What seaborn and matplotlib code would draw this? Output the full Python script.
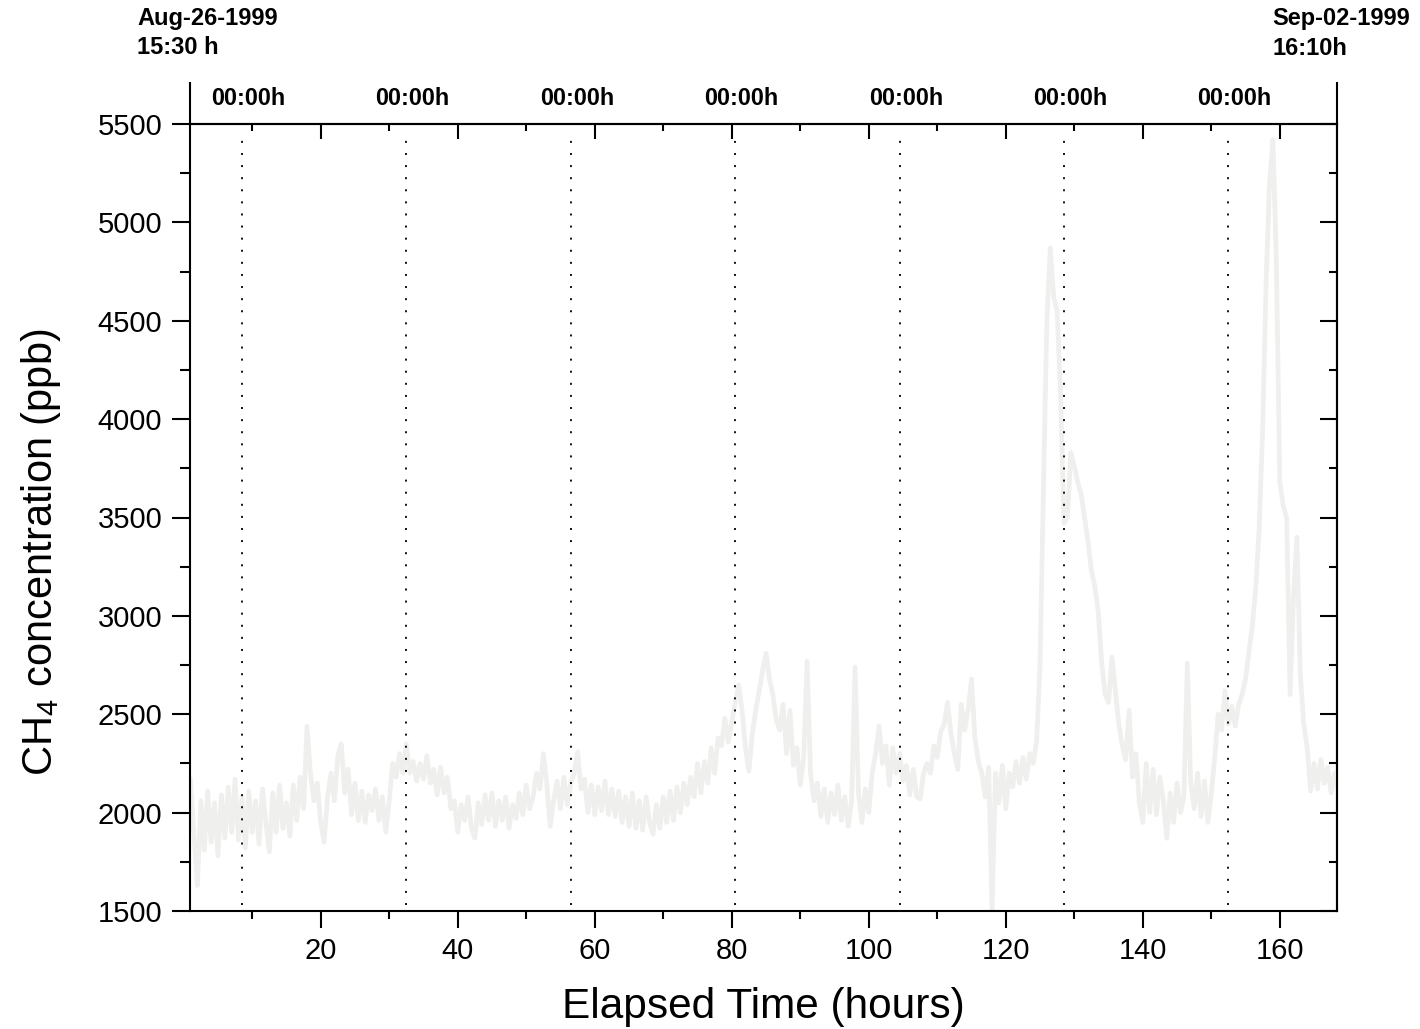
import numpy as np
import pandas as pd
import matplotlib
matplotlib.use("Agg")
import matplotlib.pyplot as plt
import seaborn as sns
from matplotlib.ticker import MultipleLocator, NullFormatter

# CH4 readings (ppb), one every half hour from 1.0 h of elapsed time
ch4 = [
    # 1.0 - 10.5 h
    2170, 1880, 1630, 2060, 1810, 2110, 1850, 2050, 1780, 2090,
    1870, 2130, 1900, 2170, 1860, 2080, 1820, 2110, 1900, 2060,
    # 11.0 - 20.5 h
    1840, 2120, 1950, 1800, 2100, 1900, 2140, 1920, 2050, 1880,
    2140, 1960, 2180, 2020, 2440, 2200, 2060, 2150, 1950, 1850,
    # 21.0 - 30.5 h
    2080, 2200, 2060, 2290, 2350, 2100, 2220, 1990, 2150, 1960,
    2110, 1950, 2090, 2010, 2120, 1960, 2080, 1900, 2060, 2250,
    # 31.0 - 40.5 h
    2180, 2300, 2200, 2350, 2200, 2260, 2160, 2250, 2170, 2290,
    2150, 2220, 2090, 2230, 2100, 2180, 2020, 2060, 1900, 2040,
    # 41.0 - 50.5 h
    1960, 2080, 1920, 1870, 2050, 1940, 2090, 1960, 2100, 1930,
    2060, 1960, 2080, 1920, 2040, 1970, 2100, 1990, 2140, 2020,
    # 51.0 - 60.5 h
    2080, 2200, 2120, 2300, 2150, 1930, 2060, 2160, 2020, 2180,
    2040, 2150, 2200, 2310, 2120, 2170, 2000, 2140, 1990, 2130,
    # 61.0 - 70.5 h
    2010, 2160, 1990, 2120, 1980, 2110, 1950, 2080, 1930, 2100,
    1920, 2060, 1910, 2080, 1950, 1890, 2040, 1920, 2080, 1950,
    # 71.0 - 80.5 h
    2110, 1960, 2130, 2000, 2150, 2040, 2180, 2080, 2250, 2100,
    2260, 2150, 2330, 2200, 2380, 2340, 2480, 2360, 2460, 2560,
    # 81.0 - 90.5 h
    2650, 2520, 2330, 2210, 2400, 2520, 2620, 2720, 2810, 2680,
    2600, 2470, 2420, 2550, 2300, 2520, 2240, 2330, 2140, 2280,
    # 91.0 - 100.5 h
    2770, 2200, 2060, 2150, 1980, 2120, 1950, 2100, 1990, 2140,
    1960, 2080, 1930, 2060, 2740, 2100, 1950, 2120, 2000, 2200,
    # 101.0 - 110.5 h
    2300, 2440, 2250, 2340, 2140, 2330, 2200, 2300, 2160, 2240,
    2090, 2220, 2080, 2070, 2200, 2250, 2200, 2340, 2280, 2410,
    # 111.0 - 120.5 h
    2450, 2560, 2400, 2300, 2220, 2550, 2420, 2520, 2680, 2380,
    2260, 2200, 2080, 2230, 1500, 2200, 2050, 2240, 2020, 2200,
    # 121.0 - 130.5 h
    2130, 2260, 2150, 2280, 2170, 2300, 2250, 2360, 2750, 3650,
    4500, 4870, 4620, 4550, 4120, 3470, 3500, 3830, 3760, 3680,
    # 131.0 - 140.5 h
    3620, 3500, 3380, 3230, 3150, 3020, 2760, 2600, 2560, 2790,
    2620, 2450, 2340, 2270, 2520, 2180, 2300, 2050, 1950, 2250,
    # 141.0 - 150.5 h
    2000, 2220, 1990, 2180, 2060, 1870, 2100, 1950, 2150, 2000,
    2080, 2760, 2150, 2020, 2200, 1980, 2160, 1950, 2100, 2280,
    # 151.0 - 160.5 h
    2500, 2420, 2620, 2450, 2540, 2440, 2550, 2600, 2680, 2820,
    2950, 3150, 3450, 3950, 4700, 5200, 5420, 4800, 3680, 3560,
    # 161.0 - 168.5 h
    3500, 2600, 3100, 3400, 2700, 2450, 2330, 2110, 2250, 2120,
    2270, 2150, 2230, 2100, 2200, 2120,
]
# half-hourly sampling times (elapsed hours)
hours = 1.0 + 0.5 * np.arange(len(ch4))

# local midnights, in elapsed hours
midnights = [8.5, 32.5, 56.5, 80.5, 104.5, 128.5, 152.5]
midnight_label = "00:00h"
start_date, start_time = "Aug-26-1999", "15:30 h"
end_date, end_time = "Sep-02-1999", "16:10h"

sns.set_theme(style="ticks")
plt.rcParams["font.family"] = ["Liberation Sans", "DejaVu Sans"]
plt.rcParams["mathtext.fontset"] = "custom"
plt.rcParams["mathtext.rm"] = "Liberation Sans"
plt.rcParams["mathtext.default"] = "regular"
for key in ("text.color", "axes.labelcolor", "xtick.color", "ytick.color",
            "axes.edgecolor"):
    plt.rcParams[key] = "black"

W, H = 1420, 1029
fig = plt.figure(figsize=(W / 100, H / 100), dpi=100)
ax = fig.add_axes([190 / W, 1 - 911 / H, 1147 / W, 787 / H])

df = pd.DataFrame({"hours": hours, "ch4": ch4})
sns.lineplot(data=df, x="hours", y="ch4", ax=ax, color="#eff0ee",
             linewidth=3.4, estimator=None, sort=False, zorder=2)

for m in midnights:
    ax.axvline(m, ymin=0.008, ymax=0.985, color="black", linewidth=1.3,
               linestyle=(0, (1.1, 5.6)), zorder=3)
    ax.text(m + 0.9, 1.033, midnight_label, transform=ax.get_xaxis_transform(),
            ha="center", va="center", fontsize=16.8, fontweight="bold",
            color="black")

ax.set_xlim(0.92, 168.35)
ax.set_ylim(1500, 5500)

for s in ax.spines.values():
    s.set_linewidth(1.5)
    s.set_color("black")

# bottom / left: outward ticks with labels
ax.xaxis.set_major_locator(MultipleLocator(20))
ax.xaxis.set_minor_locator(MultipleLocator(10))
ax.yaxis.set_major_locator(MultipleLocator(500))
ax.yaxis.set_minor_locator(MultipleLocator(250))
ax.tick_params(axis="x", which="major", direction="out", length=12, width=1.5,
               labelsize=21, pad=7, colors="black")
ax.tick_params(axis="x", which="minor", direction="out", length=6, width=1.5,
               colors="black")
ax.tick_params(axis="y", which="major", direction="out", length=13, width=1.5,
               labelsize=21, pad=7, colors="black")
ax.tick_params(axis="y", which="minor", direction="out", length=7, width=1.5,
               colors="black")

# top / right: inward ticks without labels
top = ax.secondary_xaxis("top")
top.xaxis.set_major_locator(MultipleLocator(20))
top.xaxis.set_minor_locator(MultipleLocator(10))
top.xaxis.set_major_formatter(NullFormatter())
top.tick_params(axis="x", which="major", direction="in", length=11, width=1.5,
                colors="black")
top.tick_params(axis="x", which="minor", direction="in", length=5, width=1.5,
                colors="black")
top.spines["top"].set_linewidth(1.5)

right = ax.secondary_yaxis("right")
right.yaxis.set_major_locator(MultipleLocator(500))
right.yaxis.set_minor_locator(MultipleLocator(250))
right.yaxis.set_major_formatter(NullFormatter())
right.tick_params(axis="y", which="major", direction="in", length=12, width=1.5,
                  colors="black")
right.tick_params(axis="y", which="minor", direction="in", length=6, width=1.5,
                  colors="black")
right.spines["right"].set_linewidth(1.5)

# side rails framing the midnight label strip
ext = 42 / 787
for xa in (0, 1):
    ax.plot([xa, xa], [1, 1 + ext], transform=ax.transAxes, color="black",
            linewidth=1.5, clip_on=False, solid_capstyle="butt")

ax.set_xlabel("Elapsed Time (hours)", fontsize=30.5, color="black")
ax.set_ylabel("CH$_4$ concentration (ppb)", fontsize=30, color="black")
ax.xaxis.set_label_coords(0.5, -0.0966)
ax.yaxis.set_label_coords(-0.1107, 0.456)

text_kw = dict(ha="left", va="baseline", fontsize=17, fontweight="bold",
               color="black")
fig.text(137 / W, 1 - 24.5 / H, start_date, **text_kw)
fig.text(137 / W, 1 - 54.5 / H, start_time, **text_kw)
fig.text(1272 / W, 1 - 25 / H, end_date, **text_kw)
fig.text(1272 / W, 1 - 55 / H, end_time, **text_kw)

fig.savefig("out.png", dpi=100, facecolor="white")
